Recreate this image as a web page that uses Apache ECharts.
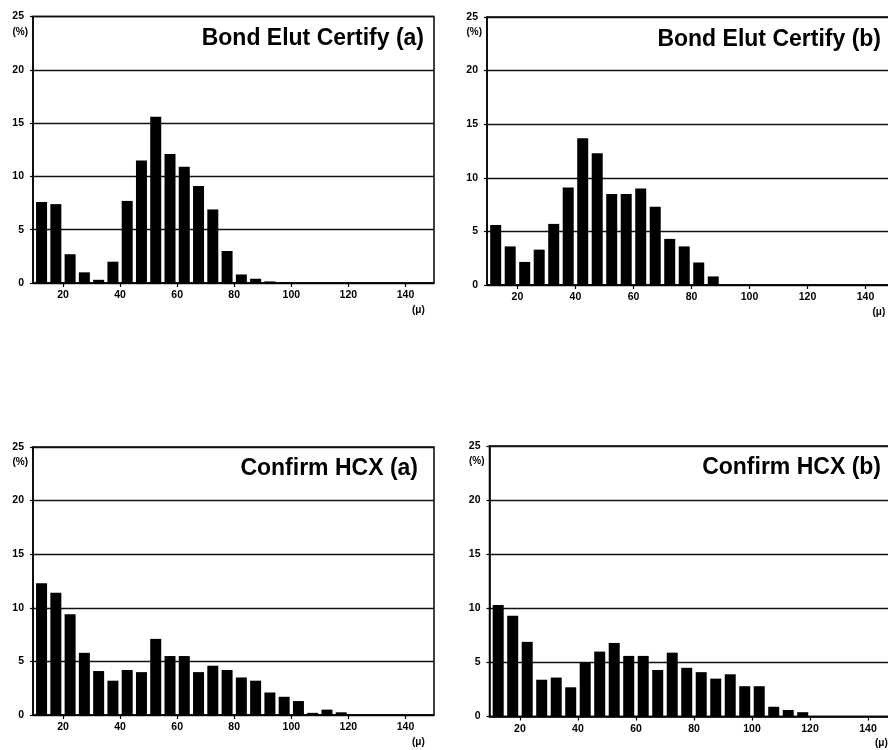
<!DOCTYPE html>
<html>
<head>
<meta charset="utf-8">
<script src="https://cdn.jsdelivr.net/npm/echarts@6/dist/echarts.min.js"></script>
<style>
html,body{margin:0;padding:0;background:#fff;}
#chart{width:888px;height:750px;}
</style>
</head>
<body>
<div id="chart"></div>
<script>
// ---- data ----
const binCenters = [12.5, 17.5, 22.5, 27.5, 32.5, 37.5, 42.5, 47.5, 52.5, 57.5, 62.5, 67.5, 72.5, 77.5, 82.5, 87.5, 92.5, 97.5, 102.5, 107.5, 112.5, 117.5];
const bondElutA = [7.6, 7.4, 2.7, 1.0, 0.3, 2.0, 7.7, 11.5, 15.6, 12.1, 10.9, 9.1, 6.9, 3.0, 0.8, 0.4, 0.15, 0.05, 0, 0, 0, 0];
const bondElutB = [5.6, 3.6, 2.15, 3.3, 5.7, 9.1, 13.7, 12.3, 8.5, 8.5, 9.0, 7.3, 4.3, 3.6, 2.1, 0.8, 0, 0, 0, 0, 0, 0];
const confirmA = [12.3, 11.4, 9.4, 5.8, 4.1, 3.2, 4.2, 4.0, 7.1, 5.5, 5.5, 4.0, 4.6, 4.2, 3.5, 3.2, 2.1, 1.7, 1.3, 0.2, 0.5, 0.25];
const confirmB = [10.3, 9.3, 6.9, 3.4, 3.6, 2.7, 5.0, 6.0, 6.8, 5.6, 5.6, 4.3, 5.9, 4.5, 4.1, 3.5, 3.9, 2.8, 2.8, 0.9, 0.6, 0.4];
const panelTitles = ['Bond Elut Certify (a)', 'Bond Elut Certify (b)', 'Confirm HCX (a)', 'Confirm HCX (b)'];
const xTickValues = [20, 40, 60, 80, 100, 120, 140];
const xUnitName = '(\u03bc)';
const yUnitName = '(%)';

// ---- layout ----
const FONT = '"Liberation Sans", Arial, sans-serif';
const panels = [
  { data: bondElutA, grid: { left: 33, top: 16.5, width: 401, height: 266.5 }, titleRight: 464, titleTop: 27 },
  { data: bondElutB, grid: { left: 487, top: 17, width: 407.5, height: 268 }, titleRight: 7, titleTop: 28 },
  { data: confirmA, grid: { left: 33, top: 447, width: 401, height: 268 }, titleRight: 470, titleTop: 457 },
  { data: confirmB, grid: { left: 489.5, top: 446, width: 407.5, height: 270.5 }, titleRight: 7, titleTop: 456 }
];

const option = {
  animation: false,
  backgroundColor: '#fff',
  title: panels.map((p, i) => ({
    text: panelTitles[i],
    right: p.titleRight,
    top: p.titleTop,
    padding: 0,
    textStyle: { fontFamily: FONT, fontWeight: 'bold', fontSize: 23, color: '#000' }
  })),
  grid: panels.map(p => Object.assign({
    show: true, borderColor: '#000', borderWidth: 1.5, backgroundColor: 'transparent',
    containLabel: false, outerBoundsMode: 'none'
  }, p.grid)),
  xAxis: panels.map((p, i) => ({
    type: 'value',
    gridIndex: i,
    min: 9.5,
    max: 150,
    name: xUnitName,
    nameLocation: 'end',
    nameGap: -22,
    nameTextStyle: { fontFamily: FONT, fontWeight: 'bold', fontSize: 10, color: '#000', verticalAlign: 'top', padding: [22, 0, 0, 0] },
    axisLine: { show: true, lineStyle: { color: '#000', width: 1.5 } },
    axisTick: { show: true, customValues: xTickValues, length: 4, lineStyle: { color: '#000', width: 1.2 } },
    axisLabel: { customValues: xTickValues, fontFamily: FONT, fontWeight: 'bold', fontSize: 10.5, color: '#000', margin: 7 },
    splitLine: { show: false }
  })),
  yAxis: panels.map((p, i) => ({
    type: 'value',
    gridIndex: i,
    min: 0,
    max: 25,
    interval: 5,
    name: yUnitName,
    nameLocation: 'end',
    nameGap: -15.5,
    nameTextStyle: { fontFamily: FONT, fontWeight: 'bold', fontSize: 10, color: '#000', align: 'right', verticalAlign: 'middle', padding: [0, 5, 0, 0] },
    axisLine: { show: true, lineStyle: { color: '#000', width: 1.5 } },
    axisTick: { show: true, length: 3, lineStyle: { color: '#000', width: 1.2 } },
    axisLabel: { fontFamily: FONT, fontWeight: 'bold', fontSize: 10.5, color: '#000', margin: 9 },
    splitLine: { show: true, lineStyle: { color: '#111', width: 1.3 } }
  })),
  series: panels.map((p, i) => ({
    type: 'bar',
    xAxisIndex: i,
    yAxisIndex: i,
    barWidth: 11,
    itemStyle: { color: '#000' },
    data: binCenters.map((c, k) => [c, p.data[k]])
  }))
};

const chart = echarts.init(document.getElementById('chart'), null, { renderer: 'canvas' });
chart.setOption(option);
</script>
</body>
</html>
